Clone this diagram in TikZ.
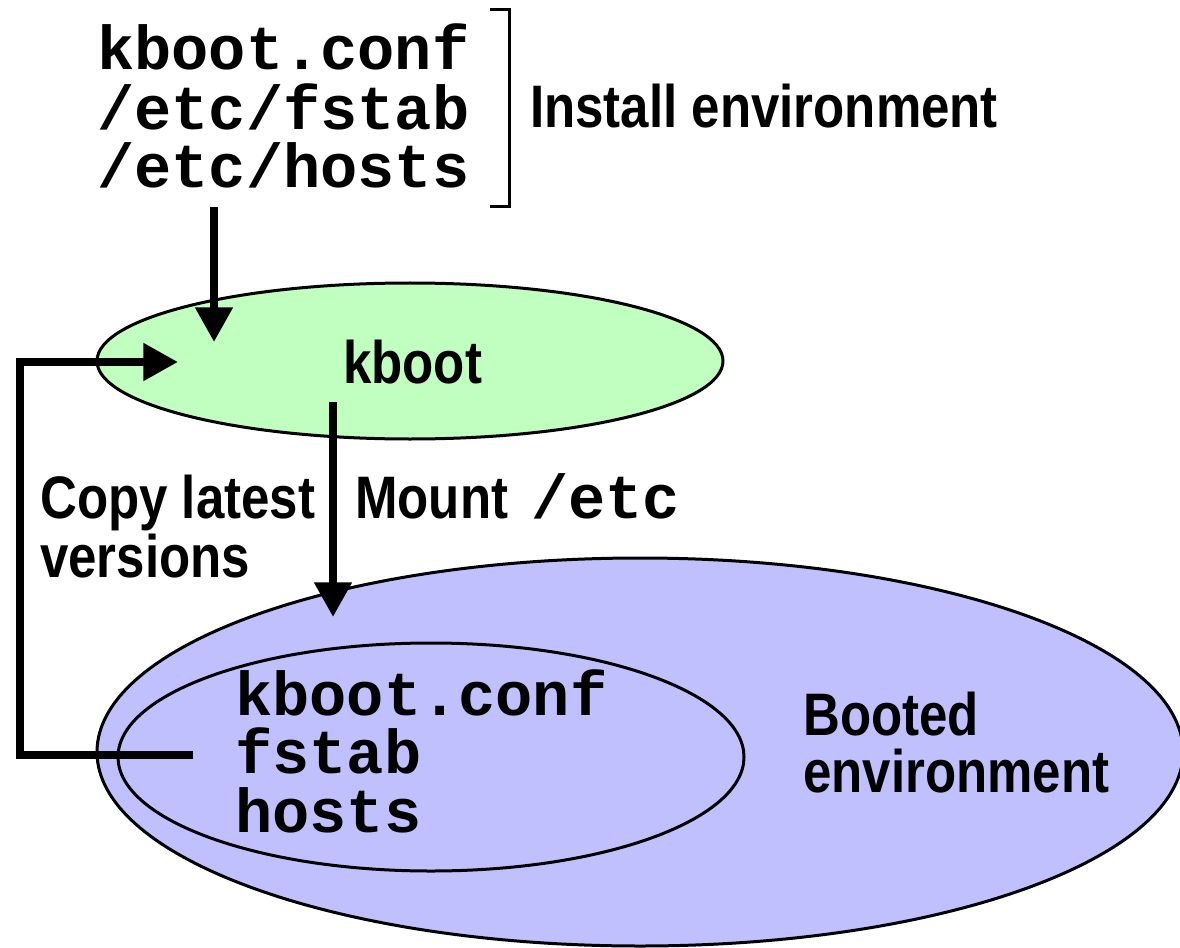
\documentclass[tikz,border=0pt]{standalone}
\usepackage{fontspec}
\usetikzlibrary{shapes.geometric,arrows.meta}
\newfontfamily\hv[FakeStretch=0.85]{Liberation Sans Bold}
\newfontfamily\monob{Liberation Mono Bold}
\definecolor{greenfill}{HTML}{C0FFC0}
\definecolor{bluefill}{HTML}{C0C0FF}
\tikzset{
  mono/.style={inner sep=0pt, anchor=base west, font=\monob\fontsize{46.5}{45}\selectfont},
  sans/.style={inner sep=0pt, anchor=base west, font=\hv\fontsize{45}{45}\selectfont},
  oval/.style={ellipse, draw=black, line width=2.25pt, inner sep=0pt},
  flow/.style={line width=6pt, -{Triangle[length=26pt,width=27pt]}},
  plain/.style={line width=6pt},
}
\begin{document}
\begin{tikzpicture}[x=0.75pt,y=-0.75pt]
\useasboundingbox (0,0) rectangle (1180,948);
% ellipses
\node[oval, fill=bluefill, minimum width=814.5pt, minimum height=291pt] (booted) at (640,752) {};
\node[oval, fill=bluefill, minimum width=469.5pt, minimum height=171pt] (inner) at (431,757) {};
\node[oval, fill=greenfill, minimum width=469.5pt, minimum height=117pt] (kbootell) at (410,361) {};
% top texts
\node[mono] (t1) at (97,70) {kboot.conf};
\node[mono] (t2) at (97,130) {/etc/fstab};
\node[mono] (t3) at (97,188) {/etc/hosts};
\draw[line width=2.25pt] (490,10) -- (509,10) -- (509,207) -- (490,207);
\node[sans] (inst) at (530,128) {Install environment};
\node[sans] (kb) at (343,383) {kboot};
\node[sans] (copy1) at (40,518) {Copy latest};
\node[sans] (copy2) at (40,577) {versions};
\node[sans] (mount) at (355,518) {Mount};
\node[mono] (etc) at (531,518) {/etc};
\node[mono] (i1) at (235,715) {kboot.conf};
\node[mono] (i2) at (235,773) {fstab};
\node[mono] (i3) at (235,832) {hosts};
\node[sans] (b1) at (803,735) {Booted};
\node[sans] (b2) at (803,792) {environment};
% connector coordinates
\coordinate (topsrc) at (214,207);
\coordinate (kin1) at (214,342);
\coordinate (loopsrc) at (193,755);
\coordinate (loopa) at (20,755);
\coordinate (loopb) at (20,362);
\coordinate (kin2) at (178,362);
\coordinate (mntsrc) at (333,402);
\coordinate (mntdst) at (333,617);
\draw[flow] (topsrc) -- (kin1);
\draw[flow] (loopsrc) -- (loopa) -- (loopb) -- (kin2);
\draw[flow] (mntsrc) -- (mntdst);
\end{tikzpicture}
\end{document}
